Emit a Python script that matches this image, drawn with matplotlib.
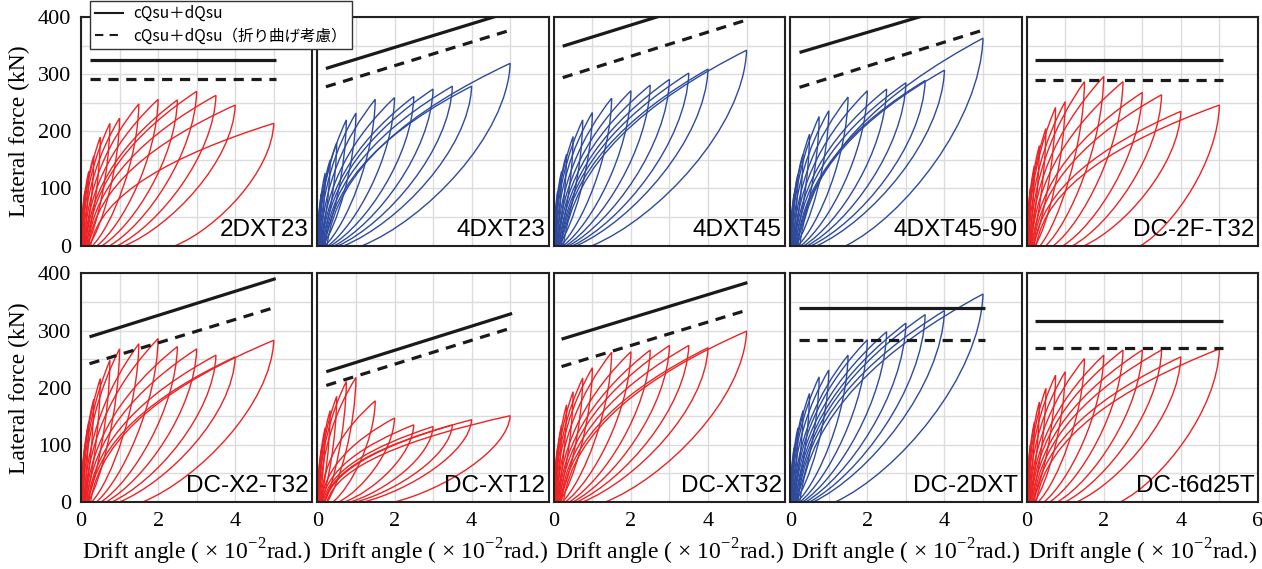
import matplotlib
matplotlib.use("Agg")
import matplotlib.pyplot as plt
from matplotlib.path import Path
from matplotlib.patches import PathPatch
from matplotlib.lines import Line2D

# cycle amplitudes (x10^-2 rad) shared by all specimens
DRIFT = [0.1, 0.2, 0.33, 0.5, 0.75, 1.0, 1.5, 2.0, 2.5, 3.0, 3.5, 4.0, 5.0]
# drift where each reloading branch crosses zero force
LOAD_START = [0.0, 0.0, 0.01, 0.02, 0.03, 0.05, 0.08, 0.1, 0.12, 0.15, 0.18, 0.2, 0.25]

NAMES = ["2DXT23", "4DXT23", "4DXT45", "4DXT45-90", "DC-2F-T32",
         "DC-X2-T32", "DC-XT12", "DC-XT32", "DC-2DXT", "DC-t6d25T"]
COLORS = ["red", "blue", "blue", "blue", "red",
          "red", "red", "red", "blue", "red"]

# peak lateral force per cycle (kN)
F_2DXT23 = [95, 130, 157, 190, 214, 223, 248, 256, 255, 270, 263, 246, 214]
F_4DXT23 = [90, 127, 150, 180, 220, 232, 256, 259, 261, 274, 279, 279, 319]
F_4DXT45 = [95, 130, 160, 191, 220, 233, 258, 271, 281, 291, 302, 309, 342]
F_4DXT45_90 = [90, 125, 160, 195, 226, 236, 260, 271, 274, 285, 289, 307, 363]
F_DC2FT32 = [100, 140, 175, 205, 242, 252, 287, 296, 287, 268, 264, 235, 246]
F_DCX2T32 = [95, 140, 180, 216, 248, 268, 277, 286, 272, 268, 257, 254, 283]
F_DCXT12 = [90, 130, 160, 185, 211, 218, 177, 147, 135, 132, 135, 144, 151]
F_DCXT32 = [95, 135, 170, 193, 217, 235, 262, 263, 266, 274, 274, 270, 299]
F_DC2DXT = [95, 130, 160, 190, 219, 231, 257, 284, 298, 313, 328, 335, 364]
F_DCT6D25T = [100, 140, 175, 199, 222, 228, 251, 257, 266, 266, 266, 254, 268]

# residual drift at zero force after unloading
R_2DXT23 = [0.02, 0.04, 0.07, 0.1, 0.15, 0.2, 0.3, 0.42, 0.55, 0.75, 0.95, 1.14, 2.45]
R_4DXT23 = [0.02, 0.03, 0.05, 0.07, 0.1, 0.13, 0.2, 0.28, 0.35, 0.45, 0.55, 0.7, 1.17]
R_4DXT45 = [0.02, 0.03, 0.05, 0.07, 0.1, 0.12, 0.18, 0.25, 0.32, 0.4, 0.5, 0.6, 1.0]
R_4DXT45_90 = [0.02, 0.03, 0.05, 0.07, 0.1, 0.13, 0.2, 0.28, 0.36, 0.45, 0.55, 0.7, 1.45]
R_DC2FT32 = [0.02, 0.04, 0.07, 0.1, 0.15, 0.22, 0.35, 0.5, 0.7, 0.95, 1.2, 1.5, 2.96]
R_DCX2T32 = [0.02, 0.04, 0.06, 0.09, 0.13, 0.18, 0.28, 0.4, 0.52, 0.65, 0.8, 1.0, 1.6]
R_DCXT12 = [0.02, 0.04, 0.07, 0.1, 0.18, 0.25, 0.4, 0.55, 0.7, 0.85, 1.0, 1.2, 2.0]
R_DCXT32 = [0.02, 0.03, 0.05, 0.07, 0.1, 0.14, 0.22, 0.3, 0.4, 0.5, 0.6, 0.75, 1.34]
R_DC2DXT = [0.02, 0.03, 0.04, 0.06, 0.09, 0.12, 0.18, 0.25, 0.32, 0.4, 0.5, 0.6, 1.17]
R_DCT6D25T = [0.02, 0.04, 0.06, 0.09, 0.14, 0.2, 0.3, 0.45, 0.6, 0.8, 1.0, 1.3, 2.43]

FORCES = [F_2DXT23, F_4DXT23, F_4DXT45, F_4DXT45_90, F_DC2FT32,
          F_DCX2T32, F_DCXT12, F_DCXT32, F_DC2DXT, F_DCT6D25T]
RESIDS = [R_2DXT23, R_4DXT23, R_4DXT45, R_4DXT45_90, R_DC2FT32,
          R_DCX2T32, R_DCXT12, R_DCXT32, R_DC2DXT, R_DCT6D25T]

# cQsu+dQsu (solid) and bending-considered (dashed): [start, end] drift and force
LINE_X = [[0.22, 5.05], [0.22, 5.05], [0.23, 5.05], [0.24, 5.04], [0.22, 5.09],
          [0.22, 5.05], [0.23, 5.05], [0.2, 5.02], [0.24, 5.06], [0.22, 5.09]]
SOLID_Y = [[324, 324], [310, 410], [349, 450], [338, 434], [324, 324],
           [289, 391], [228, 330], [285, 384], [339, 339], [317, 317]]
DASH_Y = [[292, 292], [278, 378], [294, 396], [277, 378], [289, 289],
          [242, 341], [204, 305], [237, 336], [284, 284], [270, 270]]

LEGEND_LABELS = ["cQsu＋dQsu", "cQsu＋dQsu（折り曲げ考慮）"]

COLOR_MAP = {"red": "#ED2224", "blue": "#2E4A9E"}
SERIF = "Liberation Serif"

plt.rcParams["font.family"] = SERIF
plt.rcParams["mathtext.fontset"] = "custom"
plt.rcParams["mathtext.rm"] = SERIF


def loop_path(s, d, f, r):
    """One cycle in the positive quadrant: reload from s, peak (d, f), unload to r."""
    dl = d - s
    du = d - r
    verts = [(s, 0),
             (s + 0.05 * dl, 0.42 * f), (s + 0.45 * dl, 0.74 * f), (d, f),
             (d - 0.02 * du, 0.6 * f), (r + 0.42 * du, 0.14 * f), (r, 0)]
    codes = [Path.MOVETO] + [Path.CURVE4] * 6
    return Path(verts, codes)


fig, axes = plt.subplots(2, 5, figsize=(12.62, 5.69), dpi=100)
fig.subplots_adjust(left=0.0642, right=0.9968, top=0.970, bottom=0.1178,
                    wspace=0.022, hspace=0.122)

for i, ax in enumerate(axes.flat):
    row, col = divmod(i, 5)
    color = COLOR_MAP[COLORS[i]]
    for k in range(len(DRIFT)):
        p = loop_path(LOAD_START[k], DRIFT[k], FORCES[i][k], RESIDS[i][k])
        ax.add_patch(PathPatch(p, fill=False, edgecolor=color, lw=1.0, zorder=2))

    ax.plot(LINE_X[i], SOLID_Y[i], color="#1a1a1a", lw=2.3, solid_capstyle="butt", zorder=3)
    ax.plot(LINE_X[i], DASH_Y[i], color="#1a1a1a", lw=2.3, dashes=(3.2, 2.4), zorder=3)

    ax.set_xlim(0, 6)
    ax.set_ylim(0, 400)
    ax.set_xticks(range(0, 7))
    ax.set_yticks(range(0, 401, 50))
    ax.grid(True, color="#dcdcdc", lw=1.0, zorder=0)
    ax.set_axisbelow(True)
    ax.tick_params(length=0, labelsize=16, pad=7)
    for sp in ax.spines.values():
        sp.set_color("#222222")
        sp.set_linewidth(1.5)

    if col == 0:
        ax.set_yticklabels([str(v) if v % 100 == 0 else "" for v in range(0, 401, 50)])
        ax.set_ylabel("Lateral force (kN)", fontsize=17, labelpad=6)
    else:
        ax.set_yticklabels([])
    if row == 1:
        last = 6 if col == 4 else 4
        ax.set_xticklabels([str(v) if v % 2 == 0 and v <= last else "" for v in range(0, 7)])
        ax.set_xlabel("Drift angle ( \u00d7 10$^{\\mathregular{-2}}$rad.)", fontsize=17,
                      labelpad=4)
    else:
        ax.set_xticklabels([])

    ax.text(0.985, 0.02, NAMES[i], transform=ax.transAxes, ha="right", va="bottom",
            fontsize=17.5, fontfamily="Liberation Sans", zorder=5)

handles = [Line2D([], [], color="#1a1a1a", lw=1.5),
           Line2D([], [], color="#1a1a1a", lw=1.5, dashes=(4, 3))]
leg = fig.legend(handles, LEGEND_LABELS, loc="upper left",
                 bbox_to_anchor=(90 / 1262, 1 - 0.5 / 569),
                 prop={"family": ["Noto Sans CJK JP", "DejaVu Sans"], "size": 11.2},
                 frameon=True, fancybox=False, edgecolor="#333333", framealpha=1,
                 handlelength=1.8, borderpad=0.3, labelspacing=0.35, handletextpad=0.7,
                 borderaxespad=0)
leg.get_frame().set_linewidth(1.0)
leg.set_zorder(10)

fig.savefig("out.png", dpi=100)
